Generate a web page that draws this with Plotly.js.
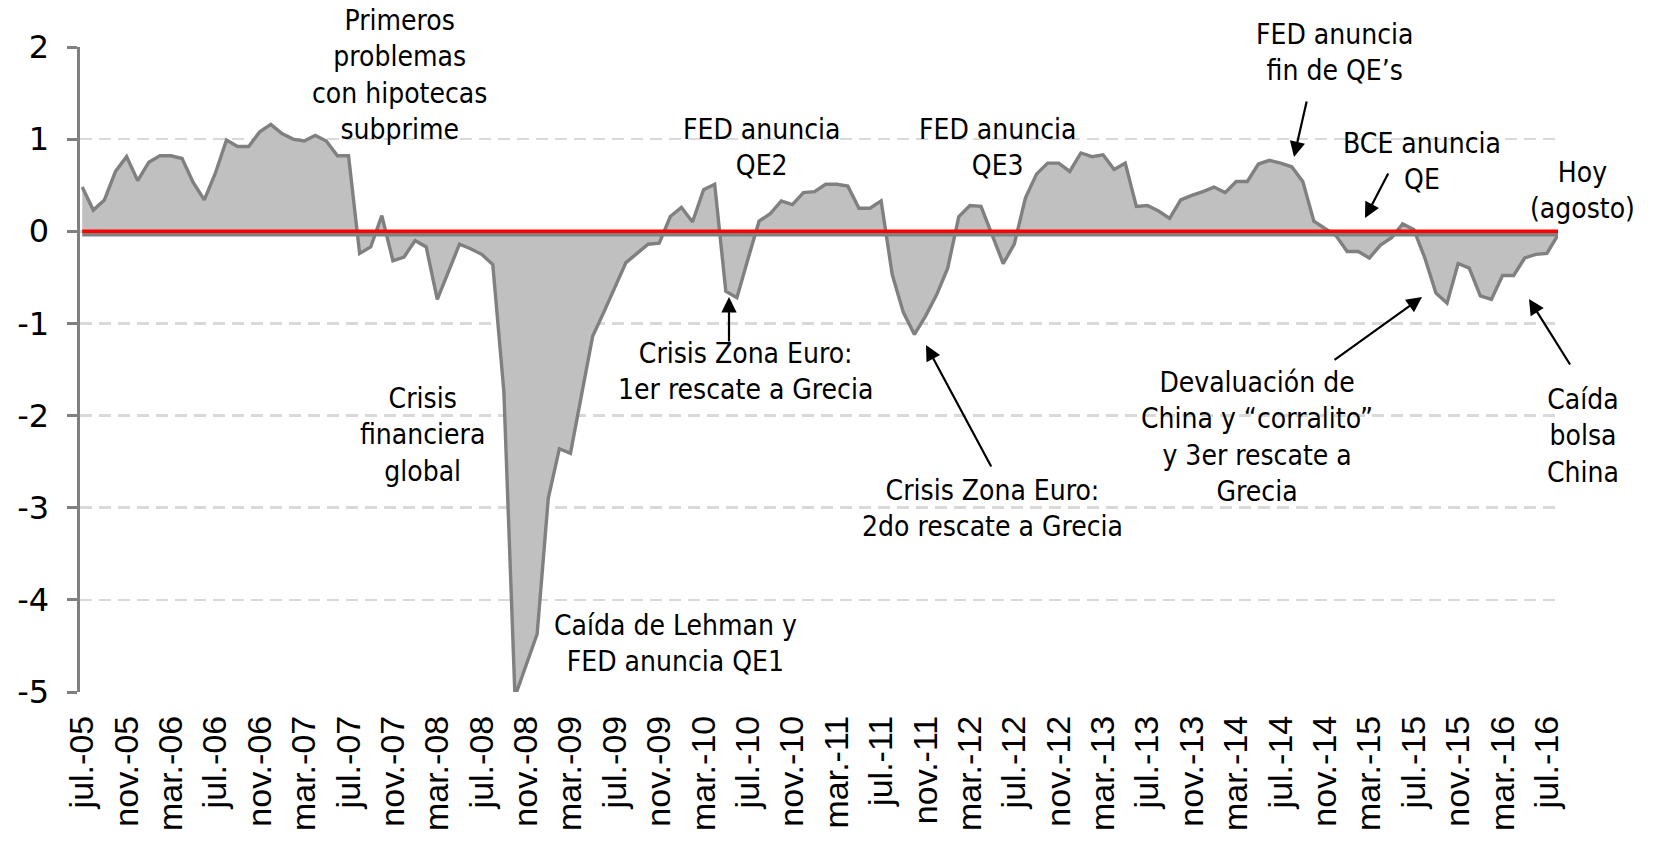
<!DOCTYPE html>
<html>
<head>
<meta charset="utf-8">
<script src="https://cdn.plot.ly/plotly-3.0.1.min.js"></script>
<style>
  html, body { margin: 0; padding: 0; background: #ffffff; }
  #chart { width: 1676px; height: 852px; }
</style>
</head>
<body>
<div id="chart"></div>
<script>
// meses (jul.-05 a ago.-16)
const meses = [
  "jul.-05","ago.-05","sep.-05","oct.-05","nov.-05","dic.-05",
  "ene.-06","feb.-06","mar.-06","abr.-06","may.-06","jun.-06","jul.-06","ago.-06","sep.-06","oct.-06","nov.-06","dic.-06",
  "ene.-07","feb.-07","mar.-07","abr.-07","may.-07","jun.-07","jul.-07","ago.-07","sep.-07","oct.-07","nov.-07","dic.-07",
  "ene.-08","feb.-08","mar.-08","abr.-08","may.-08","jun.-08","jul.-08","ago.-08","sep.-08","oct.-08","nov.-08","dic.-08",
  "ene.-09","feb.-09","mar.-09","abr.-09","may.-09","jun.-09","jul.-09","ago.-09","sep.-09","oct.-09","nov.-09","dic.-09",
  "ene.-10","feb.-10","mar.-10","abr.-10","may.-10","jun.-10","jul.-10","ago.-10","sep.-10","oct.-10","nov.-10","dic.-10",
  "ene.-11","feb.-11","mar.-11","abr.-11","may.-11","jun.-11","jul.-11","ago.-11","sep.-11","oct.-11","nov.-11","dic.-11",
  "ene.-12","feb.-12","mar.-12","abr.-12","may.-12","jun.-12","jul.-12","ago.-12","sep.-12","oct.-12","nov.-12","dic.-12",
  "ene.-13","feb.-13","mar.-13","abr.-13","may.-13","jun.-13","jul.-13","ago.-13","sep.-13","oct.-13","nov.-13","dic.-13",
  "ene.-14","feb.-14","mar.-14","abr.-14","may.-14","jun.-14","jul.-14","ago.-14","sep.-14","oct.-14","nov.-14","dic.-14",
  "ene.-15","feb.-15","mar.-15","abr.-15","may.-15","jun.-15","jul.-15","ago.-15","sep.-15","oct.-15","nov.-15","dic.-15",
  "ene.-16","feb.-16","mar.-16","abr.-16","may.-16","jun.-16","jul.-16","ago.-16"
];

// valores del indice
const indice = [
  0.48, 0.23, 0.34, 0.65, 0.81, 0.55,
  0.75, 0.82, 0.82, 0.79, 0.53, 0.34, 0.63, 0.99, 0.92, 0.92, 1.08, 1.16,
  1.06, 1.00, 0.98, 1.04, 0.98, 0.82, 0.82, -0.24, -0.17, 0.17, -0.32, -0.28,
  -0.10, -0.17, -0.74, -0.45, -0.14, -0.19, -0.25, -0.36, -1.74, -5.05, -4.71, -4.37,
  -2.90, -2.36, -2.41, -1.75, -1.14, -0.88, -0.62, -0.34, -0.24, -0.14, -0.13, 0.16,
  0.26, 0.10, 0.45, 0.51, -0.65, -0.72, -0.30, 0.11, 0.19, 0.33, 0.29, 0.42,
  0.43, 0.51, 0.51, 0.49, 0.25, 0.25, 0.33, -0.47, -0.88, -1.12, -0.92, -0.69,
  -0.40, 0.16, 0.28, 0.27, -0.04, -0.35, -0.14, 0.36, 0.62, 0.74, 0.74, 0.65,
  0.85, 0.81, 0.83, 0.67, 0.74, 0.27, 0.28, 0.22, 0.14, 0.34, 0.39, 0.43,
  0.48, 0.42, 0.54, 0.54, 0.73, 0.77, 0.74, 0.70, 0.54, 0.11, 0.03, -0.05,
  -0.22, -0.22, -0.29, -0.15, -0.07, 0.08, 0.02, -0.29, -0.67, -0.78, -0.35, -0.40,
  -0.70, -0.74, -0.48, -0.48, -0.29, -0.25, -0.24, -0.04
];

// etiquetas del eje x: una cada 4 meses
const etiquetasX = meses.filter((m, i) => i % 4 === 0);
const ticksY = [-5, -4, -3, -2, -1, 0, 1, 2];
const textoY = ["-5", "-4", "-3", "-2", "-1", "0", "1", "2"];

const fuente = "Tahoma, 'DejaVu Sans Condensed', 'DejaVu Sans', sans-serif";

// area del grafico en pixeles
const L = 80, R = 1558, T = 47, B = 692;
const px = x => (x - L) / (R - L);
const py = y => (B - y) / (B - T);

const notas = [
  { t: "Primeros<br>problemas<br>con hipotecas<br>subprime", x: 399, y: 75 },
  { t: "Crisis<br>financiera<br>global", x: 422, y: 435 },
  { t: "Caída de Lehman y<br>FED anuncia QE1", x: 675, y: 643 },
  { t: "FED anuncia<br>QE2", x: 761, y: 147 },
  { t: "FED anuncia<br>QE3", x: 997, y: 147 },
  { t: "Crisis Zona Euro:<br>1er rescate a Grecia", x: 745, y: 371 },
  { t: "Crisis Zona Euro:<br>2do rescate a Grecia", x: 992, y: 508 },
  { t: "FED anuncia<br>fin de QE\u2019s", x: 1334, y: 53 },
  { t: "BCE anuncia<br>QE", x: 1422, y: 161 },
  { t: "Hoy<br>(agosto)", x: 1582, y: 190 },
  { t: "Devaluación de<br>China y \u201Ccorralito\u201D<br>y 3er rescate a<br>Grecia", x: 1257, y: 437 },
  { t: "Caída<br>bolsa<br>China", x: 1583, y: 436 }
];

// flechas: cola -> punta
const flechas = [
  { x0: 729, y0: 343, x1: 729, y1: 297 },
  { x0: 992, y0: 468, x1: 926, y1: 345 },
  { x0: 1307, y0: 100, x1: 1294, y1: 157 },
  { x0: 1389, y0: 172, x1: 1365, y1: 218 },
  { x0: 1333, y0: 361, x1: 1422, y1: 297 },
  { x0: 1571, y0: 366, x1: 1529, y1: 299 }
];

const annotations = notas.map(n => ({
  text: n.t, x: px(n.x), y: py(n.y), xref: "paper", yref: "paper",
  xanchor: "center", yanchor: "middle", align: "center", showarrow: false,
  font: { family: fuente, size: 28, color: "#000000" }
})).concat(flechas.map(f => ({
  text: "", x: px(f.x1), y: py(f.y1), xref: "paper", yref: "paper",
  ax: f.x0 - f.x1, ay: f.y0 - f.y1, showarrow: true,
  arrowhead: 2, arrowsize: 1.4, arrowwidth: 2.2, arrowcolor: "#000000"
})));

const traceArea = {
  x: meses, y: indice, type: "scatter", mode: "lines",
  fill: "tozeroy", fillcolor: "#c0c0c0",
  line: { color: "#808080", width: 3.4 },
  hoverinfo: "x+y"
};
const traceCero = {
  x: meses, y: meses.map(() => 0), type: "scatter", mode: "lines",
  line: { color: "#ff0000", width: 3.5 },
  hoverinfo: "skip"
};

const layout = {
  width: 1676, height: 852,
  margin: { l: L, r: 1676 - R, t: T, b: 852 - B },
  paper_bgcolor: "#ffffff", plot_bgcolor: "#ffffff",
  showlegend: false,
  xaxis: {
    type: "category", range: [-0.2, meses.length - 1],
    tickmode: "array", tickvals: etiquetasX, ticktext: etiquetasX,
    tickangle: -90, ticks: "", showgrid: false, showline: false, zeroline: false,
    ticklabelstandoff: 16,
    tickfont: { family: "Liberation Sans, Arial, sans-serif", size: 34, color: "#000000" }
  },
  yaxis: {
    range: [-5, 2], tickmode: "array", tickvals: ticksY, ticktext: textoY,
    showline: true, linecolor: "#808080", linewidth: 3.5,
    ticks: "outside", ticklen: 10, tickwidth: 3, tickcolor: "#808080",
    showgrid: true, gridcolor: "#d9d9d9", gridwidth: 2.5, griddash: "12px,7px",
    zeroline: false, ticklabelstandoff: 11,
    tickfont: { family: "'DejaVu Sans', sans-serif", size: 32, color: "#000000" }
  },
  shapes: [{
    type: "line", xref: "x", yref: "y", ysizemode: "pixel", yanchor: 0,
    x0: 0, x1: meses.length - 1, y0: -3.5, y1: -3.5,
    line: { color: "#808080", width: 3.5 }, layer: "above"
  }],
  annotations: annotations
};

Plotly.newPlot("chart", [traceArea, traceCero], layout, { displayModeBar: false, staticPlot: true });
</script>
</body>
</html>
